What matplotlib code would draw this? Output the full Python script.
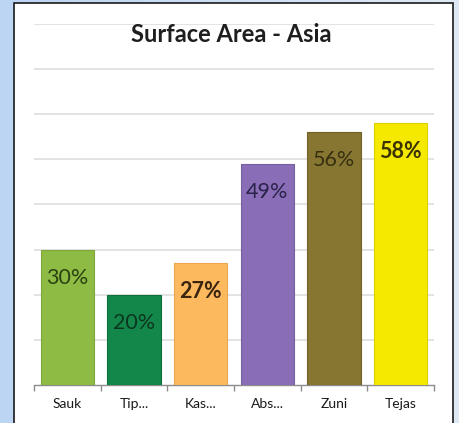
import numpy as np
import matplotlib
matplotlib.use("Agg")
import matplotlib.pyplot as plt
from matplotlib.patches import Rectangle

# chart data
categories = ["Sauk", "Tip...", "Kas...", "Abs...", "Zuni", "Tejas"]
values = [30, 20, 27, 49, 56, 58]
labels = ["30%", "20%", "27%", "49%", "56%", "58%"]

bar_colors = ["#8dbb43", "#13874a", "#fdb95e", "#8a6db7", "#877632", "#f6e900"]
edge_colors = ["#7ea63a", "#0f6f3c", "#e9a64f", "#76609e", "#6f6128", "#dccf00"]
text_colors = ["#2a4212", "#0c361f", "#3a2410", "#2a2249", "#36300f", "#3a3300"]
bold = [False, False, True, False, False, True]

plt.rcParams['font.family'] = ['Lato', 'DejaVu Sans']

W, H = 459, 423
fig = plt.figure(figsize=(W / 100, H / 100), dpi=100)

# light blue gradient background
bg = fig.add_axes([0, 0, 1, 1], zorder=-10)
grad = np.linspace(0, 1, 256).reshape(1, -1)
bg.imshow(grad, aspect="auto", extent=[0, 1, 0, 1],
          cmap=matplotlib.colors.LinearSegmentedColormap.from_list("bl", ["#bcd5f3", "#dfe9f6"]))
bg.set_axis_off()

# white panel with dark border
panel = Rectangle((14 / W, -0.01), (453 - 14) / W, (H - 2.5) / H + 0.01,
                  transform=fig.transFigure, facecolor="white",
                  edgecolor="#1a1a1a", linewidth=1.2, zorder=-5)
fig.patches.append(panel)

ax = fig.add_axes([34 / W, 1 - 385 / H, 400 / W, (385 - 24) / H])
ax.set_facecolor("none")
x = np.arange(len(categories))
ax.bar(x, values, width=0.8, color=bar_colors, edgecolor=edge_colors,
       linewidth=0.8, zorder=3)

for i, v in enumerate(values):
    ax.text(x[i], v - 6.2, labels[i], ha="center", va="center",
            fontsize=15.5, color=text_colors[i],
            fontweight="bold" if bold[i] else "normal", zorder=4)

ax.set_xlim(-0.5, len(categories) - 0.5)
ax.set_ylim(0, 80)
ax.set_yticks(np.arange(10, 81, 10))
ax.yaxis.grid(True, color="#e0e0e0", linewidth=1.3, zorder=0)
ax.tick_params(axis="y", left=False, labelleft=False)

ax.set_xticks(x)
ax.set_xticklabels(categories, fontsize=10, color="#1a1a1a")
ax.set_xticks(np.arange(-0.5, len(categories)), minor=True)
ax.tick_params(axis="x", which="major", length=0, pad=9)
ax.tick_params(axis="x", which="minor", length=4, color="#8c8c8c", width=1)

for s in ["top", "right", "left"]:
    ax.spines[s].set_visible(False)
ax.spines["bottom"].set_color("#8c8c8c")
ax.spines["bottom"].set_linewidth(1)

fig.text(231 / W, 1 - 35 / H, "Surface Area - Asia", ha="center", va="center",
         fontsize=17, fontweight="bold", color="#1e1e1e")

fig.savefig("out.png", dpi=100)
